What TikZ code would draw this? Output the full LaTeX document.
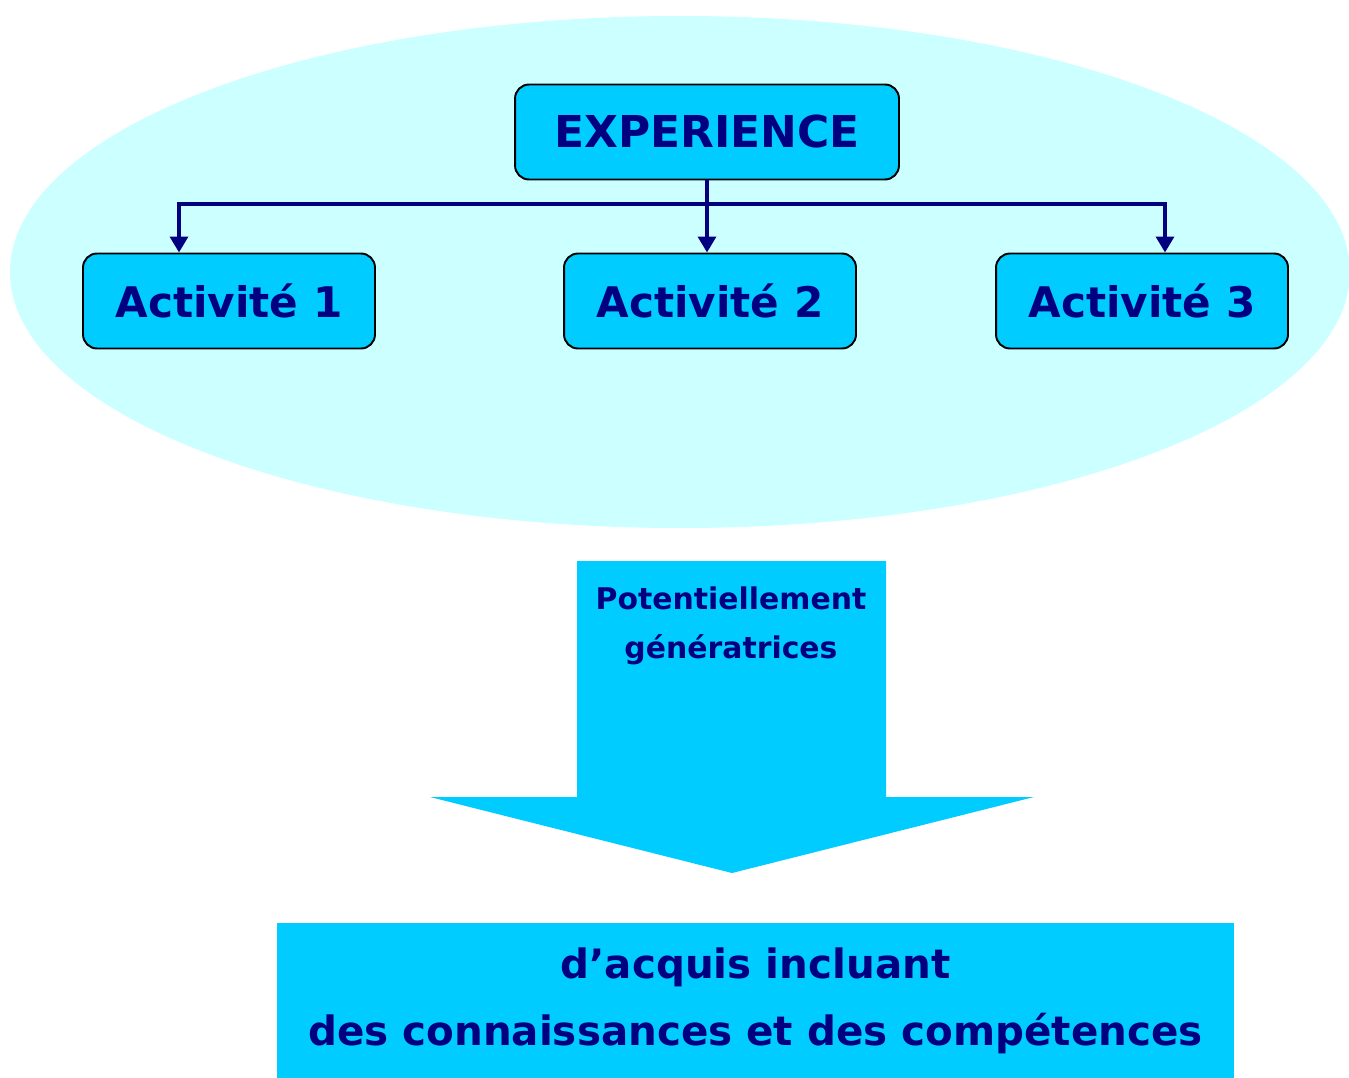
\documentclass[tikz,border=0pt]{standalone}
\usepackage{fontspec}
\setmainfont{DejaVu Sans}
\usetikzlibrary{arrows.meta}
\definecolor{paleblue}{RGB}{204,255,255}
\definecolor{boxblue}{RGB}{0,204,255}
\definecolor{inkblue}{RGB}{0,0,128}
\begin{document}
\begin{tikzpicture}[x=0.02cm,y=-0.02cm,
	actbox/.style={draw=black, line width=1.1pt, fill=boxblue, rounded corners=0.28cm, minimum width=5.84cm, minimum height=1.9cm, text=inkblue, font=\bfseries\fontsize{24}{28}\selectfont},
	link/.style={draw=inkblue, line width=2.8pt, -{Triangle[length=9pt,width=10pt]}},
	]
	\useasboundingbox (0,0) rectangle (1349,1078);
	% Background
	\fill [paleblue] (680,272) ellipse [x radius=670, y radius=256];
	% Boxes
	\node [actbox, minimum width=7.68cm, font=\bfseries\fontsize{25}{28}\selectfont] (exp) at (707,132) {EXPERIENCE};
	\node [actbox] (act1) at (229,301) {Activité 1};
	\node [actbox] (act2) at (710,301) {Activité 2};
	\node [actbox] (act3) at (1142,301) {Activité 3};
	\coordinate (bus) at (0,204);
	% Links
	\draw [link] (exp.south) -- (exp.south |- bus) -| (act1.north -| 179,0);
	\draw [link] (exp.south) -- (exp.south |- act2.north);
	\draw [link] (exp.south) -- (exp.south |- bus) -| (act3.north -| 1165,0);
	% Big arrow
	\fill [boxblue] (577,561) -- (886,561) -- (886,797) -- (1034,797) -- (732,873) -- (430,797) -- (577,797) -- cycle;
	\node [text=inkblue, font=\bfseries\fontsize{17}{28}\selectfont, align=center] (pot) at (731,626) {Potentiellement\\génératrices};
	% Result
	\node [fill=boxblue, minimum width=19.14cm, minimum height=3.14cm, inner sep=0pt, text=inkblue, align=center, font=\bfseries\fontsize{23}{38}\selectfont] (acq) at (755.5,1001) {d’acquis incluant\\des connaissances et des compétences};
\end{tikzpicture}
\end{document}
